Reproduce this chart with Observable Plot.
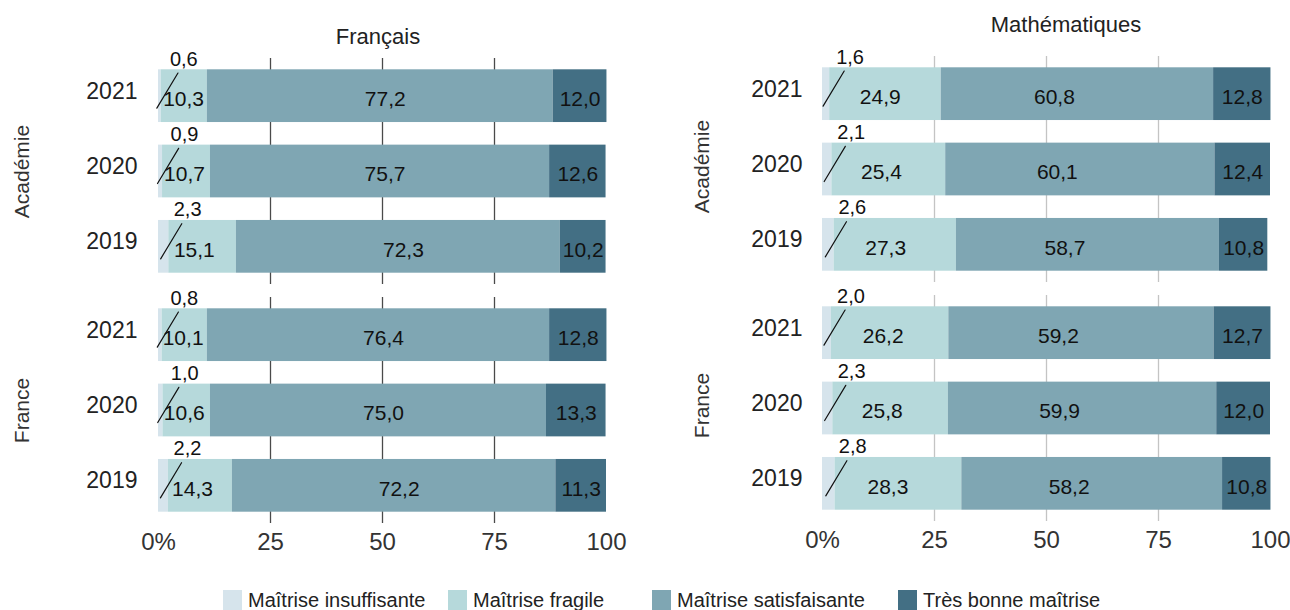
<!DOCTYPE html>
<html>
<head>
<meta charset="utf-8">
<script src="https://cdn.jsdelivr.net/npm/d3@7"></script>
<script src="https://cdn.jsdelivr.net/npm/@observablehq/plot@0.6"></script>
<style>
  html, body { margin: 0; padding: 0; background: #fff; }
  #root { position: relative; width: 1290px; height: 610px; overflow: hidden; font-family: "Liberation Sans", Arial, sans-serif; color: #111; }
  .panel { position: absolute; top: 0; }
  .title { position: absolute; transform: translate(-50%, -50%); font-size: 22px; color: #222; white-space: nowrap; }
  .legend-item { position: absolute; top: 590px; height: 20px; display: flex; align-items: center; font-size: 20px; color: #222; white-space: nowrap; }
  .legend-item .sw { width: 19px; height: 20px; margin-right: 6px; }
</style>
</head>
<body>
<div id="root"></div>
<script>
// ---- data ----
const years = ["2021", "2020", "2019"];
const groups = ["Académie", "France"];
const categories = ["Maîtrise insuffisante", "Maîtrise fragile", "Maîtrise satisfaisante", "Très bonne maîtrise"];
const colors = ["#d6e4ec", "#b6d9db", "#7fa6b3", "#436f84"];
const xTicks = [0, 25, 50, 75, 100];
const xTickLabels = ["0%", "25", "50", "75", "100"];

// rows follow `years`; columns follow `categories`
const francaisAcademie = [[0.6, 10.3, 77.2, 12.0], [0.9, 10.7, 75.7, 12.6], [2.3, 15.1, 72.3, 10.2]];
const francaisFrance   = [[0.8, 10.1, 76.4, 12.8], [1.0, 10.6, 75.0, 13.3], [2.2, 14.3, 72.2, 11.3]];
const mathsAcademie    = [[1.6, 24.9, 60.8, 12.8], [2.1, 25.4, 60.1, 12.4], [2.6, 27.3, 58.7, 10.8]];
const mathsFrance      = [[2.0, 26.2, 59.2, 12.7], [2.3, 25.8, 59.9, 12.0], [2.8, 28.3, 58.2, 10.8]];

const titles = ["Français", "Mathématiques"];

// ---- helpers ----
const fmt = v => d3.format(".1f")(v).replace(".", ",");
const FONT = "\"Liberation Sans\", Arial, sans-serif";

function wideRows(acad, fra) {
  const out = [];
  [[groups[0], acad], [groups[1], fra]].forEach(([g, arr]) => {
    arr.forEach((v, i) => out.push({group: g, year: years[i], insuf: v[0], fragile: v[1], satisf: v[2], tres: v[3]}));
  });
  return out;
}
function longRows(wide) {
  return wide.flatMap(r => categories.map((c, i) => ({group: r.group, year: r.year, cat: c, value: [r.insuf, r.fragile, r.satisf, r.tres][i]})));
}

const leader = {draw(context, l) { context.moveTo(0, 0); context.lineTo(0, -l); }};

function panel(o) {
  const wide = wideRows(o.acad, o.fra);
  const long = longRows(wide);
  const facetH = 465;
  return Plot.plot({
    width: o.width,
    height: o.marginTop + facetH + 50,
    marginTop: o.marginTop,
    marginBottom: 50,
    marginLeft: o.marginLeft,
    marginRight: o.marginRight,
    style: {fontFamily: FONT, color: "#111", background: "transparent", overflow: "visible"},
    x: {domain: [0, 100]},
    y: {domain: years, paddingInner: 0.3, paddingOuter: 0.15, round: false},
    fy: {domain: groups, paddingInner: 0.0544, paddingOuter: 0, round: false, axis: null},
    color: {domain: categories, range: colors},
    marks: [
      Plot.gridX({ticks: [25, 50, 75], stroke: o.gridColor, strokeOpacity: 1, strokeWidth: 1.3}),
      Plot.barX(long, {x: "value", y: "year", fy: "group", fill: "cat", order: categories}),
      Plot.axisY({label: null, tickSize: 0, tickPadding: o.yPad, fontSize: 23, dy: -5, color: "#222"}),
      Plot.axisX({label: null, ticks: xTicks, tickFormat: d => xTickLabels[xTicks.indexOf(d)], tickSize: 0, tickPadding: 9, fontSize: 24, color: "#333"}),
      Plot.text(groups, {fy: d => d, text: d => d, frameAnchor: "left", textAnchor: "middle", rotate: -90, dx: o.facetDx, dy: o.facetDy, fontSize: 21, fill: "#333"}),
      // small "insuffisante" values with leader lines
      Plot.vector(wide, {x: d => d.insuf / 2, y: "year", fy: "group", length: 41, rotate: 31, anchor: "start", shape: leader, stroke: "#111", strokeWidth: 1.2, dx: -3, dy: 12}),
      Plot.text(wide, {x: d => d.insuf / 2, y: "year", fy: "group", text: d => fmt(d.insuf), dx: 24, dy: -37, fontSize: 20}),
      // in-bar values
      Plot.text(wide, {x: d => d.fragile / 2, y: "year", fy: "group", text: d => fmt(d.fragile), dx: 2, dy: 3, fontSize: 21}),
      Plot.text(wide, {x: d => d.insuf + d.fragile + d.satisf / 2, y: "year", fy: "group", text: d => fmt(d.satisf), dx: o.satisfDx, dy: 3, fontSize: 21}),
      Plot.text(wide, {x: d => d.insuf + d.fragile + d.satisf + d.tres / 2, y: "year", fy: "group", text: d => fmt(d.tres), dy: 3, fontSize: 21})
    ]
  });
}

const root = document.getElementById("root");

const left = panel({acad: francaisAcademie, fra: francaisFrance, width: 640, marginLeft: 158, marginRight: 34, marginTop: 58, gridColor: "#4a4a4a", facetDx: -136, facetDy: 0, satisfDx: 5, yPad: 21});
left.classList.add("panel"); left.style.left = "0px";
root.appendChild(left);

const right = panel({acad: mathsAcademie, fra: mathsFrance, width: 650, marginLeft: 182, marginRight: 20, marginTop: 56, gridColor: "#c4c4c4", facetDx: -120, facetDy: -3, satisfDx: -23, yPad: 20});
right.classList.add("panel"); right.style.left = "640px";
root.appendChild(right);

// titles
[[titles[0], 378, 37], [titles[1], 1066, 25]].forEach(([t, x, y]) => {
  const d = document.createElement("div");
  d.className = "title"; d.textContent = t;
  d.style.left = x + "px"; d.style.top = y + "px";
  root.appendChild(d);
});

// legend
const legendLeft = [223, 448, 652, 898];
categories.forEach((c, i) => {
  const item = document.createElement("div");
  item.className = "legend-item";
  item.style.left = legendLeft[i] + "px";
  const sw = document.createElement("span");
  sw.className = "sw"; sw.style.background = colors[i];
  const tx = document.createElement("span");
  tx.textContent = c;
  item.appendChild(sw); item.appendChild(tx);
  root.appendChild(item);
});
</script>
</body>
</html>
